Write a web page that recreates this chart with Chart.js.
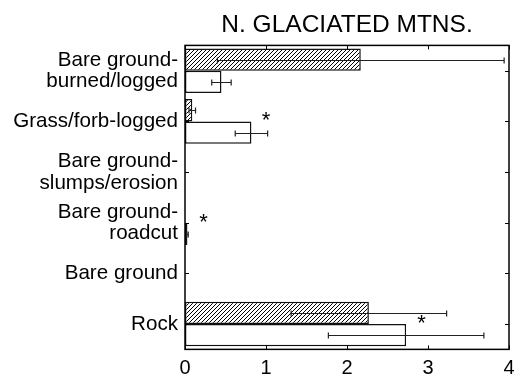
<!DOCTYPE html>
<html>
<head>
<meta charset="utf-8">
<script src="https://cdn.jsdelivr.net/npm/chart.js@4/dist/chart.umd.min.js"></script>
<style>
  body { margin: 0; background: #fff; }
</style>
</head>
<body>
<canvas id="coverChart" width="525" height="378"></canvas>
<script>
var categories = [["Bare ground-", "burned/logged"], "Grass/forb-logged", ["Bare ground-", "slumps/erosion"], ["Bare ground-", "roadcut"], "Bare ground", "Rock"];
var hatchedValues = [2.17, 0.09, 0, 0, 0, 2.27];
var hatchedErrors = [1.77, 0.04, 0, 0, 0, 0.96];
var openValues = [0.45, 0.82, 0, 0.03, 0, 2.73];
var openErrors = [0.12, 0.2, 0, 0.01, 0, 0.96];
var starCategories = [1, 3, 5];
var starValues = [1.0, 0.23, 2.92];
var xTicks = [0, 1, 2, 3, 4];

// diagonal hatch fill
function makeHatch() {
  var c = document.createElement("canvas");
  c.width = 4;
  c.height = 4;
  var g = c.getContext("2d");
  g.fillStyle = "#fff";
  g.fillRect(0, 0, 4, 4);
  g.strokeStyle = "#000";
  g.lineWidth = 1;
  g.beginPath();
  g.moveTo(-1, 5); g.lineTo(5, -1);
  g.moveTo(-1, 1); g.lineTo(1, -1);
  g.moveTo(3, 5); g.lineTo(5, 3);
  g.stroke();
  return g.createPattern(c, "repeat");
}

var errorBars = {
  id: "errorBars",
  afterDatasetsDraw: function (chart) {
    var ctx = chart.ctx;
    var xs = chart.scales.x;
    var sets = [[hatchedValues, hatchedErrors], [openValues, openErrors]];
    ctx.save();
    ctx.strokeStyle = "#222";
    ctx.lineWidth = 1.2;
    sets.forEach(function (s, i) {
      var meta = chart.getDatasetMeta(i);
      meta.data.forEach(function (bar, j) {
        var e = s[1][j];
        if (!e) return;
        var x0 = xs.getPixelForValue(Math.max(0, s[0][j] - e));
        var x1 = xs.getPixelForValue(s[0][j] + e);
        var y = Math.round(bar.y) + 0.5;
        ctx.beginPath();
        ctx.moveTo(x0, y); ctx.lineTo(x1, y);
        ctx.moveTo(x0, y - 3); ctx.lineTo(x0, y + 3);
        ctx.moveTo(x1, y - 3); ctx.lineTo(x1, y + 3);
        ctx.stroke();
      });
    });
    ctx.restore();
  }
};

var frame = {
  id: "frame",
  afterDraw: function (chart) {
    var ctx = chart.ctx;
    var a = chart.chartArea;
    var xs = chart.scales.x;
    var ys = chart.scales.y;
    ctx.save();
    ctx.strokeStyle = "#000";
    ctx.lineWidth = 1.5;
    ctx.strokeRect(a.left, a.top, a.right - a.left, a.bottom - a.top);
    ctx.lineWidth = 1;
    ctx.beginPath();
    xTicks.forEach(function (v) {
      var x = Math.round(xs.getPixelForValue(v)) + 0.5;
      ctx.moveTo(x, a.top); ctx.lineTo(x, a.top + 4);
      ctx.moveTo(x, a.bottom); ctx.lineTo(x, a.bottom - 4);
    });
    categories.forEach(function (c, i) {
      var y = Math.round(ys.getPixelForValue(i)) + 0.5;
      ctx.moveTo(a.left, y); ctx.lineTo(a.left + 4, y);
      ctx.moveTo(a.right, y); ctx.lineTo(a.right - 4, y);
    });
    ctx.stroke();
    // significance stars
    ctx.fillStyle = "#000";
    ctx.font = "22px 'Liberation Sans', Arial, sans-serif";
    ctx.textAlign = "center";
    ctx.textBaseline = "middle";
    starCategories.forEach(function (c, k) {
      ctx.fillText("*", xs.getPixelForValue(starValues[k]), ys.getPixelForValue(c));
    });
    ctx.restore();
  }
};

var ctx = document.getElementById("coverChart");

var myBarChart = new Chart(ctx, {
  type: "bar",
  data: {
    labels: categories,
    datasets: [
      {
        label: "hatched",
        data: hatchedValues,
        backgroundColor: makeHatch(),
        borderColor: "#111",
        borderWidth: 1.5,
        borderSkipped: false,
      },
      {
        label: "open",
        data: openValues,
        backgroundColor: "#fff",
        borderColor: "#111",
        borderWidth: 1.5,
        borderSkipped: false,
      },
    ],
  },
  options: {
    indexAxis: "y",
    responsive: false,
    animation: false,
    categoryPercentage: 0.88,
    barPercentage: 1,
    layout: { padding: { left: 0, right: 16, top: 0, bottom: 0 } },
    plugins: {
      legend: { display: false },
      tooltip: { enabled: false },
      title: {
        display: true,
        fullSize: false,
        text: "N. GLACIATED MTNS.",
        color: "#000",
        font: { family: "'Liberation Sans', Arial, sans-serif", size: 24.5, weight: "normal" },
        padding: { top: 11, bottom: 5 },
      },
    },
    scales: {
      x: {
        type: "linear",
        min: 0,
        max: 4,
        afterBuildTicks: function (scale) {
          scale.ticks = xTicks.map(function (v) { return { value: v }; });
        },
        afterFit: function (scale) { scale.height = 25; },
        grid: { display: false, drawTicks: false },
        border: { display: false },
        ticks: {
          color: "#000",
          padding: 7,
          maxRotation: 0,
          font: { family: "'Liberation Sans', Arial, sans-serif", size: 20 },
        },
      },
      y: {
        type: "category",
        offset: true,
        afterFit: function (scale) { scale.width = 185; },
        grid: { display: false, drawTicks: false },
        border: { display: false },
        ticks: {
          color: "#000",
          padding: 7,
          font: { family: "'Liberation Sans', Arial, sans-serif", size: 20.6, lineHeight: 1.05 },
        },
      },
    },
  },
  plugins: [errorBars, frame],
});
</script>
</body>
</html>
